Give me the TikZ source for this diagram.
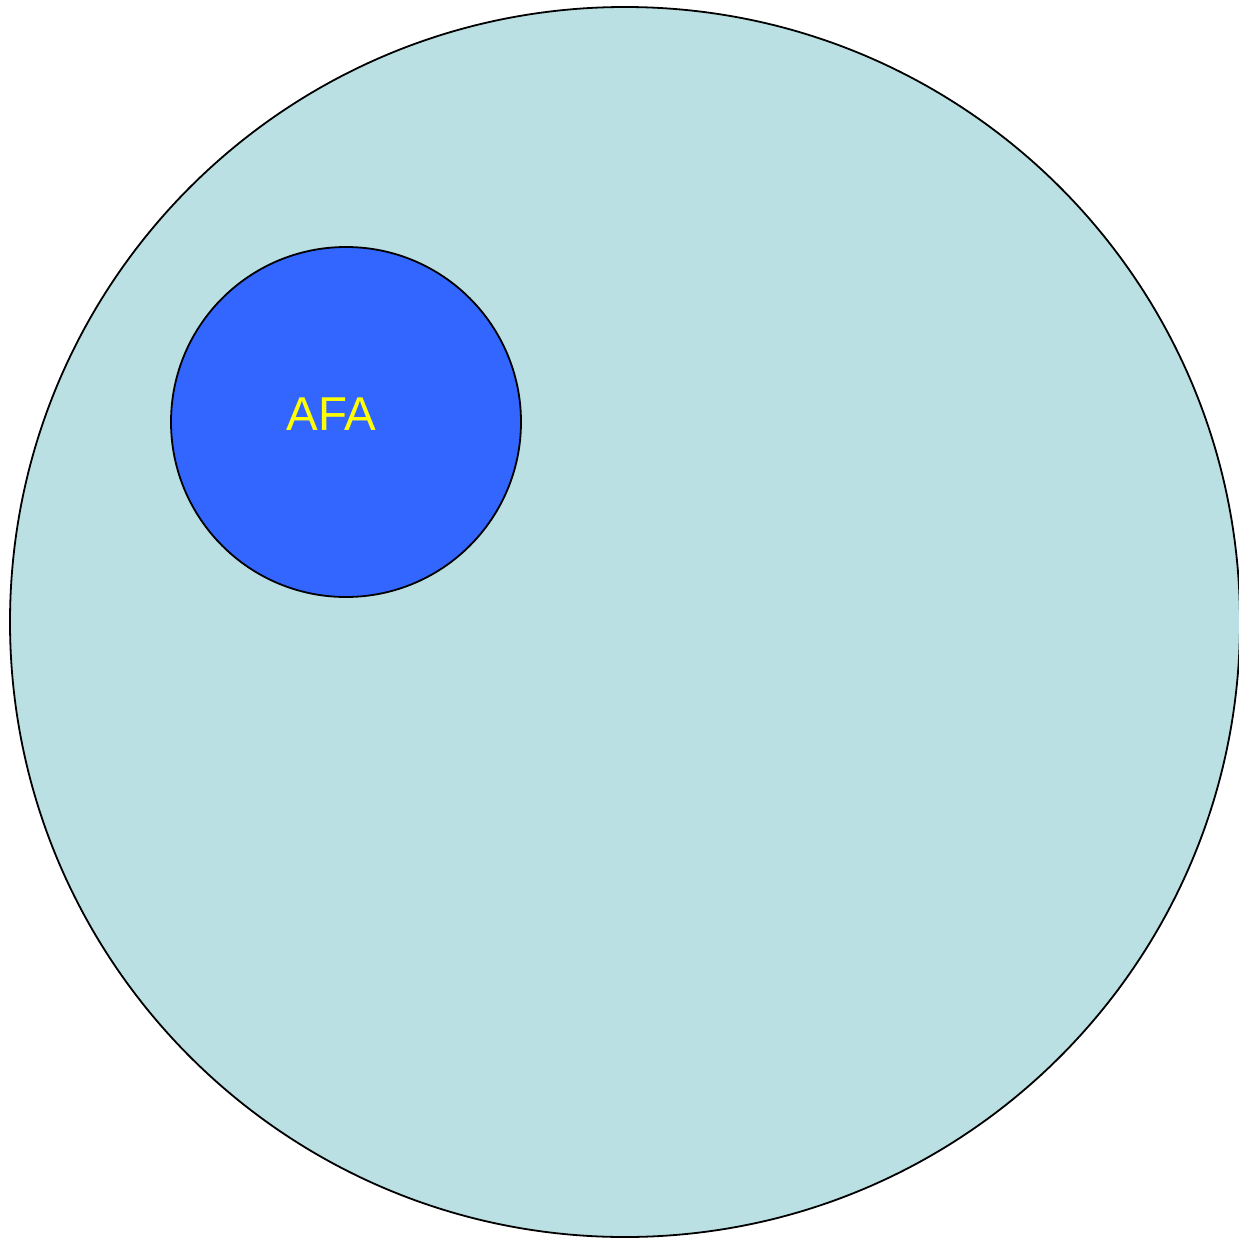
\documentclass[tikz,border=0pt]{standalone}
\usepackage{fontspec}
\setmainfont{Liberation Sans}
\definecolor{outerfill}{HTML}{BAE0E3}
\definecolor{innerfill}{HTML}{3366FF}
\definecolor{labelcol}{HTML}{FFFF00}
\begin{document}
\begin{tikzpicture}[x=1pt,y=-1pt,
  outer/.style={circle,draw=black,line width=1.8pt,fill=outerfill,minimum size=1230pt,inner sep=0pt},
  inner/.style={circle,draw=black,line width=1.8pt,fill=innerfill,minimum size=350pt,inner sep=0pt},
  lbl/.style={text=labelcol,font=\fontsize{47.5}{52}\selectfont,inner sep=0pt}]
\useasboundingbox (0,0) rectangle (1239,1239);
\node[outer] (universe) at (625,622) {};
\node[inner] (afa) at (346,422) {};
\node[lbl] (afalabel) at (331.5,414) {AFA};
\end{tikzpicture}
\end{document}
